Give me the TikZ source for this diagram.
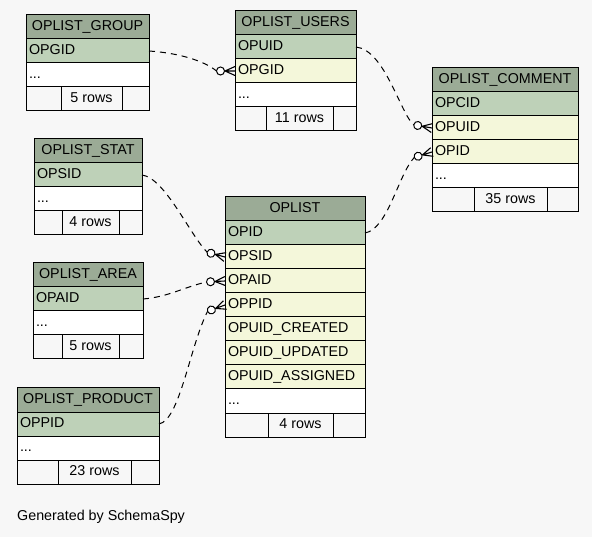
\documentclass[tikz,border=0pt]{standalone}
\usepackage{fontspec}
\setmainfont{Liberation Sans}
\usetikzlibrary{calc}
\definecolor{bgcol}{HTML}{F7F7F7}
\definecolor{hdcol}{HTML}{9BAB96}
\definecolor{pkcol}{HTML}{BED1B8}
\definecolor{fkcol}{HTML}{F4F7DA}
\newcommand{\tabfont}{\fontsize{14.3}{16}\selectfont}
\tikzset{
  cell/.style={draw=black, line width=1pt, anchor=north west, minimum height=24pt,
    inner xsep=3pt, inner ysep=0pt, outer sep=0pt, text height=11pt, text depth=4pt, font=\tabfont},
  hd/.style={cell, fill=hdcol, align=center, text width=#1},
  pk/.style={cell, fill=pkcol, align=left, text width=#1},
  fkrow/.style={cell, fill=fkcol, align=left, text width=#1},
  pl/.style={cell, fill=white, align=left, text width=#1},
  ft/.style={cell, inner xsep=0pt, minimum width=#1},
  fklink/.style={draw=black, line width=1pt, dash pattern=on 6pt off 5pt},
  crowo/.pic={
    \draw[solid, line width=1.1pt] (0pt,0pt) -- (-10pt,0pt) (0pt,4.5pt) -- (-10pt,0pt) -- (0pt,-4.5pt);
    \draw[solid, line width=1pt, fill=white] (-14.5pt,0pt) circle[radius=4pt];
  }
}
\begin{document}
\begin{tikzpicture}[x=1pt, y=1pt]
\useasboundingbox (0,0) rectangle (592,-537);
\fill[bgcol] (0,0) rectangle (592,-537);

% OPLIST_GROUP
\node[hd=117pt] (g-h) at (26,-15) {OPLIST\_GROUP};
\node[pk=117pt] (g-1) at (g-h.south west) {OPGID};
\node[pl=117pt] (g-d) at (g-1.south west) {...};
\node[ft=35pt] (g-f1) at (g-d.south west) {};
\node[ft=61pt] (g-f2) at (g-f1.north east) {5 rows};
\node[ft=27pt] (g-f3) at (g-f2.north east) {};

% OPLIST_USERS
\node[hd=115pt] (u-h) at (235,-11) {OPLIST\_USERS};
\node[pk=115pt] (u-1) at (u-h.south west) {OPUID};
\node[fkrow=115pt] (u-2) at (u-1.south west) {OPGID};
\node[pl=115pt] (u-d) at (u-2.south west) {...};
\node[ft=31pt] (u-f1) at (u-d.south west) {};
\node[ft=67pt] (u-f2) at (u-f1.north east) {11 rows};
\node[ft=23pt] (u-f3) at (u-f2.north east) {};

% OPLIST_COMMENT
\node[hd=140pt] (c-h) at (432,-68) {OPLIST\_COMMENT};
\node[pk=140pt] (c-1) at (c-h.south west) {OPCID};
\node[fkrow=140pt] (c-2) at (c-1.south west) {OPUID};
\node[fkrow=140pt] (c-3) at (c-2.south west) {OPID};
\node[pl=140pt] (c-d) at (c-3.south west) {...};
\node[ft=42pt] (c-f1) at (c-d.south west) {};
\node[ft=73pt] (c-f2) at (c-f1.north east) {35 rows};
\node[ft=31pt] (c-f3) at (c-f2.north east) {};

% OPLIST_STAT
\node[hd=102pt] (s-h) at (34,-139) {OPLIST\_STAT};
\node[pk=102pt] (s-1) at (s-h.south west) {OPSID};
\node[pl=102pt] (s-d) at (s-1.south west) {...};
\node[ft=28pt] (s-f1) at (s-d.south west) {};
\node[ft=57pt] (s-f2) at (s-f1.north east) {4 rows};
\node[ft=23pt] (s-f3) at (s-f2.north east) {};

% OPLIST
\node[hd=134pt] (o-h) at (225,-197) {OPLIST};
\node[pk=134pt] (o-1) at (o-h.south west) {OPID};
\node[fkrow=134pt] (o-2) at (o-1.south west) {OPSID};
\node[fkrow=134pt] (o-3) at (o-2.south west) {OPAID};
\node[fkrow=134pt] (o-4) at (o-3.south west) {OPPID};
\node[fkrow=134pt] (o-5) at (o-4.south west) {OPUID\_CREATED};
\node[fkrow=134pt] (o-6) at (o-5.south west) {OPUID\_UPDATED};
\node[fkrow=134pt] (o-7) at (o-6.south west) {OPUID\_ASSIGNED};
\node[pl=134pt] (o-d) at (o-7.south west) {...};
\node[ft=43pt] (o-f1) at (o-d.south west) {};
\node[ft=65pt] (o-f2) at (o-f1.north east) {4 rows};
\node[ft=32pt] (o-f3) at (o-f2.north east) {};

% OPLIST_AREA
\node[hd=104pt] (a-h) at (33,-263) {OPLIST\_AREA};
\node[pk=104pt] (a-1) at (a-h.south west) {OPAID};
\node[pl=104pt] (a-d) at (a-1.south west) {...};
\node[ft=29pt] (a-f1) at (a-d.south west) {};
\node[ft=57pt] (a-f2) at (a-f1.north east) {5 rows};
\node[ft=24pt] (a-f3) at (a-f2.north east) {};

% OPLIST_PRODUCT
\node[hd=136pt] (p-h) at (17,-388) {OPLIST\_PRODUCT};
\node[pk=136pt] (p-1) at (p-h.south west) {OPPID};
\node[pl=136pt] (p-d) at (p-1.south west) {...};
\node[ft=41pt] (p-f1) at (p-d.south west) {};
\node[ft=73pt] (p-f2) at (p-f1.north east) {23 rows};
\node[ft=28pt] (p-f3) at (p-f2.north east) {};

% circle ends of connectors
\coordinate (e1) at ($(u-2.west)+(180:18.5)$);
\coordinate (e2) at ($(c-2.west)+(170:18.5)$);
\coordinate (e3) at ($(c-3.west)+(197:18.5)$);
\coordinate (e4) at ($(o-2.west)+(165:18.5)$);
\coordinate (e5) at ($(o-3.west)+(183:18.5)$);
\coordinate (e6) at ($(o-4.west)+(200:18.5)$);

% connectors
\draw[fklink] (g-1.east) .. controls +(30,-2) and +(-12,10) .. (e1);
\draw[fklink] (u-1.east) .. controls +(29,-3) and +(-13,10) .. (e2);
\draw[fklink] (o-1.east) .. controls +(23,4) and +(-16,-17) .. (e3);
\draw[fklink] (s-1.east) .. controls +(23,-3) and +(-17,17) .. (e4);
\draw[fklink] (a-1.east) .. controls +(25,2) and +(-22,-5) .. (e5);
\draw[fklink] (p-1.east) .. controls +(21,4) and +(-17.6,-34) .. (e6);

\pic[rotate=0] at (u-2.west) {crowo};
\pic[rotate=-10] at (c-2.west) {crowo};
\pic[rotate=17] at (c-3.west) {crowo};
\pic[rotate=-15] at (o-2.west) {crowo};
\pic[rotate=3] at (o-3.west) {crowo};
\pic[rotate=20] at (o-4.west) {crowo};

\node[anchor=base west, inner sep=0pt, font=\tabfont] (gen) at (17,-520.5) {Generated by SchemaSpy};
\end{tikzpicture}
\end{document}
